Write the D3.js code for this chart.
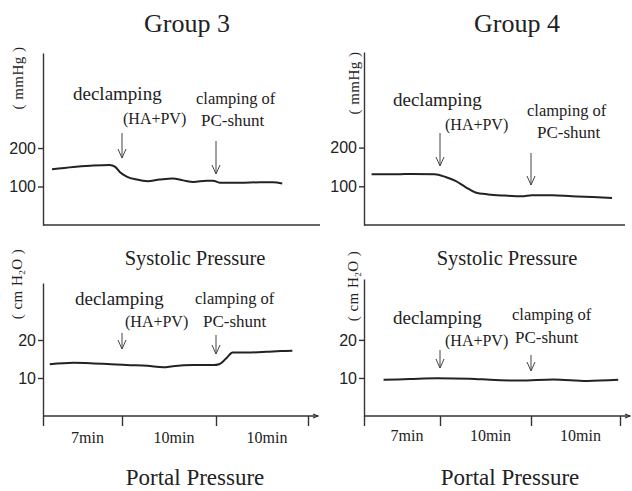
<!DOCTYPE html>
<html>
<head>
<meta charset="utf-8">
<script src="https://cdn.jsdelivr.net/npm/d3@7"></script>
<style>
body { margin: 0; background: #fff; }
svg { display: block; }
text { fill: #222; font-family: "Liberation Serif", "DejaVu Serif", serif; }
.axis text { font-family: "Liberation Sans", Arial, sans-serif; font-size: 16px; fill: #222; }
.axis path, .axis line { stroke: #333; stroke-width: 1.4; }
</style>
</head>
<body>
<div id="chart"></div>
<script>
// time phases of the recording (min)
var phaseBounds = [0, 7, 17, 27];
var phaseLabels = ['7min', '10min', '10min'];
var eventTimes = [7, 17]; // declamping (HA+PV), clamping of PC-shunt

var systolicTicks = [100, 200];
var portalTicks = [10, 20];

// Group 3 traces
var g3SysTime = [0.8, 2.7, 4.2, 5.9, 6.4, 6.8, 7.5, 8.6, 9.7, 11.0, 12.4, 13.5, 14.6, 16.0, 16.7, 17.4, 19.6, 21.8, 23.2, 24.2];
var g3SysValue = [145, 151, 154, 156, 151, 138, 126, 118, 114, 118, 121, 116, 112, 115, 115, 110, 110, 111, 111, 108];
var g3PorTime = [0.6, 2.7, 4.2, 5.7, 7.5, 9.7, 11.4, 12.4, 14.6, 16.7, 17.4, 18.2, 18.8, 20.4, 22.5, 24.0, 25.3];
var g3PorValue = [13.6, 14.0, 13.9, 13.7, 13.4, 13.2, 12.8, 13.1, 13.4, 13.4, 13.7, 15.4, 16.7, 16.7, 16.9, 17.1, 17.2];

// Group 4 traces
var g4SysTime = [0.7, 3.1, 4.4, 6.5, 7.6, 8.7, 9.8, 10.9, 12.3, 14.1, 16.0, 17.1, 19.4, 21.6, 24.5, 26.1];
var g4SysValue = [131, 131, 132, 131, 124, 114, 98, 84, 79, 76, 74, 77, 77, 74, 72, 70];
var g4PorTime = [1.8, 4.2, 6.7, 10.3, 12.5, 15.8, 19.5, 23.3, 26.8];
var g4PorValue = [9.5, 9.7, 9.9, 9.8, 9.5, 9.3, 9.6, 9.2, 9.5];

var svg = d3.select('#chart')
    .append('svg')
    .attr('width', 632)
    .attr('height', 491);

// Layout of the four panels
var panels = [
    {time: g3SysTime, value: g3SysValue, ticks: systolicTicks, yMax: 447, yRange: [225, 53],
     xRange: [43, 122, 216, 308], axisEnd: 320, unit: 'mmHg', unitPos: [23, 78], showPhases: false,
     decl: [73, 100], ha: [123, 124], clamp: [196, 104], pc: [201, 126],
     arrows: [[133, 158], [141, 174]]},
    {time: g4SysTime, value: g4SysValue, ticks: systolicTicks, yMax: 447, yRange: [225, 52],
     xRange: [364, 440, 531, 620], axisEnd: 625, unit: 'mmHg', unitPos: [359, 83], showPhases: false,
     decl: [393, 106], ha: [445, 130], clamp: [527, 116], pc: [537, 138],
     arrows: [[133, 166], [153, 185]]},
    {time: g3PorTime, value: g3PorValue, ticks: portalTicks, yMax: 35, yRange: [416, 283],
     xRange: [43, 122, 216, 308], axisEnd: 318, unit: 'cm', unitPos: [22, 284], showPhases: true,
     decl: [75, 305], ha: [125, 327], clamp: [195, 304], pc: [203, 327],
     arrows: [[333, 349], [335, 354]], phaseY: 443},
    {time: g4PorTime, value: g4PorValue, ticks: portalTicks, yMax: 36, yRange: [416, 279],
     xRange: [364, 440, 531, 620], axisEnd: 630, unit: 'cm', unitPos: [358, 286], showPhases: true,
     decl: [393, 324], ha: [445, 346], clamp: [512, 320], pc: [515, 343],
     arrows: [[350, 368], [355, 371]], phaseY: 441}
];

panels.forEach(drawPanel);

// Titles
svg.append('text').attr('x', 187).attr('y', 32).attr('text-anchor', 'middle')
    .style('font-size', '26px').text('Group 3');
svg.append('text').attr('x', 517).attr('y', 32).attr('text-anchor', 'middle')
    .style('font-size', '26px').text('Group 4');
[[195, 265], [507, 265]].forEach(function(p){
    svg.append('text').attr('x', p[0]).attr('y', p[1]).attr('text-anchor', 'middle')
        .style('font-size', '20.5px').text('Systolic Pressure');
});
[[195, 485], [510, 485]].forEach(function(p){
    svg.append('text').attr('x', p[0]).attr('y', p[1]).attr('text-anchor', 'middle')
        .style('font-size', '23px').text('Portal Pressure');
});

function drawPanel(p){
    var x = d3.scaleLinear().domain(phaseBounds).range(p.xRange);
    var y = d3.scaleLinear().domain([0, p.yMax]).range(p.yRange);
    var x0 = p.xRange[0];

    // y axis
    svg.append('g')
        .attr('class', 'axis')
        .attr('transform', 'translate(' + x0 + ',0)')
        .call(d3.axisLeft(y).tickValues(p.ticks).tickSize(5).tickSizeOuter(0).tickPadding(2));

    // x axis baseline
    svg.append('line')
        .attr('x1', x0).attr('x2', p.axisEnd)
        .attr('y1', y(0)).attr('y2', y(0))
        .style('stroke', '#333').style('stroke-width', 1.6);

    if (p.showPhases){
        svg.append('g')
            .attr('class', 'axis')
            .attr('transform', 'translate(0,' + y(0) + ')')
            .call(d3.axisBottom(x).tickValues(phaseBounds).tickSize(10).tickSizeOuter(0).tickFormat(''))
            .select('.domain').remove();
        svg.append('path')
            .attr('d', 'M' + (p.axisEnd - 5) + ',' + (y(0) - 2) + 'L' + p.axisEnd + ',' + y(0) + 'L' + (p.axisEnd - 5) + ',' + (y(0) + 2))
            .style('fill', 'none').style('stroke', '#333').style('stroke-width', 1.2);
        svg.selectAll(null)
            .data(phaseLabels)
            .enter()
            .append('text')
            .attr('x', function(d, i){ return (x(phaseBounds[i]) + x(phaseBounds[i + 1])) / 2 + 5; })
            .attr('y', p.phaseY)
            .attr('text-anchor', 'middle')
            .style('font-size', '16px')
            .text(function(d){ return d; });
    }

    // trace
    var pts = p.time.map(function(t, i){ return [t, p.value[i]]; });
    svg.append('path')
        .datum(pts)
        .attr('d', d3.line()
            .x(function(d){ return x(d[0]); })
            .y(function(d){ return y(d[1]); })
            .curve(d3.curveMonotoneX))
        .style('fill', 'none')
        .style('stroke', '#222')
        .style('stroke-width', 2);

    // event arrows
    eventTimes.forEach(function(t, i){
        var ax = x(t), a = p.arrows[i];
        svg.append('line')
            .attr('x1', ax).attr('x2', ax).attr('y1', a[0]).attr('y2', a[1])
            .style('stroke', '#444').style('stroke-width', 1);
        svg.append('path')
            .attr('d', 'M' + (ax - 4) + ',' + (a[1] - 9) + 'L' + ax + ',' + a[1] + 'L' + (ax + 4) + ',' + (a[1] - 9))
            .style('fill', 'none').style('stroke', '#444').style('stroke-width', 1);
    });

    // annotations
    svg.append('text').attr('x', p.decl[0]).attr('y', p.decl[1]).style('font-size', '19px').text('declamping');
    svg.append('text').attr('x', p.ha[0]).attr('y', p.ha[1]).style('font-size', '16px').text('(HA+PV)');
    svg.append('text').attr('x', p.clamp[0]).attr('y', p.clamp[1]).style('font-size', '16.5px').text('clamping of');
    svg.append('text').attr('x', p.pc[0]).attr('y', p.pc[1]).style('font-size', '17px').text('PC-shunt');

    // unit label, rotated
    var u = svg.append('text')
        .attr('transform', 'translate(' + p.unitPos[0] + ',' + p.unitPos[1] + ') rotate(-90)')
        .attr('text-anchor', 'middle')
        .style('font-size', '15px')
        .style('letter-spacing', '0.5px');
    if (p.unit === 'mmHg'){
        u.text('( mmHg )');
    } else {
        u.append('tspan').text('( cm H');
        u.append('tspan').attr('dy', 3).style('font-size', '9px').text('2');
        u.append('tspan').attr('dy', -3).text('O )');
    }
}
</script>
</body>
</html>
